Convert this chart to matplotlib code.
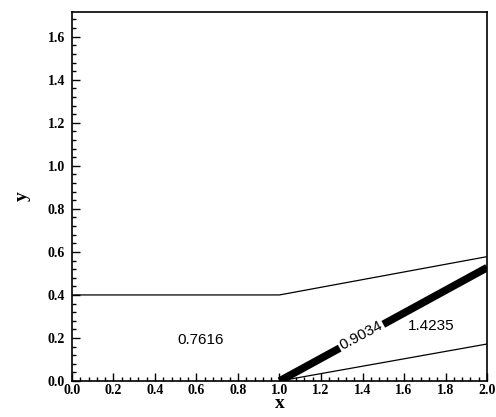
import numpy as np
import matplotlib
matplotlib.use("Agg")
from matplotlib import pyplot as plt
from matplotlib.ticker import MultipleLocator

# contour lines
upper_x = [0.0, 1.0, 2.0]
upper_y = [0.4, 0.4, 0.578]
lower_x = [1.0, 2.0]
lower_y = [0.0, 0.172]
thick_x = [1.0, 2.0]
thick_y = [0.0, 0.527]

labels = ['0.7616', '0.9034', '1.4235']
label_x = [0.62, 1.395, 1.73]
label_y = [0.19, 0.21, 0.255]

fig = plt.figure(figsize=(4.96, 4.17), dpi=100)
ax = fig.add_axes([0.145, 0.0863, 0.837, 0.885])

ax.plot(upper_x, upper_y, color='black', lw=0.9)
ax.plot(lower_x, lower_y, color='black', lw=0.9)

# thick line, with a gap where the label sits
slope = (thick_y[1] - thick_y[0]) / (thick_x[1] - thick_x[0])
seg1 = np.array([1.0, 1.29])
seg2 = np.array([1.50, 2.0])
ax.plot(seg1, thick_y[0] + slope * (seg1 - thick_x[0]), color='black', lw=5.5, solid_capstyle='butt')
ax.plot(seg2, thick_y[0] + slope * (seg2 - thick_x[0]), color='black', lw=5.5, solid_capstyle='butt')

ax.text(label_x[0], label_y[0], labels[0], family='Liberation Sans', fontsize=11, ha='center', va='center')
ax.text(label_x[1], label_y[1], labels[1], family='Liberation Sans', fontsize=11, ha='center', va='center', rotation=28)
ax.text(label_x[2], label_y[2], labels[2], family='Liberation Sans', fontsize=11, ha='center', va='center')

ax.set_xlim(0, 2.0)
ax.set_ylim(0, 1.715)
ax.xaxis.set_major_locator(MultipleLocator(0.2))
ax.xaxis.set_minor_locator(MultipleLocator(0.04))
ax.yaxis.set_major_locator(MultipleLocator(0.2))
ax.yaxis.set_minor_locator(MultipleLocator(0.04))
ax.tick_params(which='both', direction='in', top=False, right=False, width=1)
ax.tick_params(which='major', length=6)
ax.tick_params(which='minor', length=3)
ax.tick_params(axis='x', which='major', pad=2)
ax.tick_params(axis='y', which='major', pad=5)
for s in ax.spines.values():
    s.set_linewidth(1.2)

ax.set_xticklabels(['%.1f' % v for v in ax.get_xticks()], family='Liberation Serif', fontweight='bold', fontsize=10)
ax.set_yticklabels(['%.1f' % v for v in ax.get_yticks()], family='Liberation Serif', fontweight='bold', fontsize=10)
ax.set_xlabel('x', family='Liberation Serif', fontweight='bold', fontsize=14, labelpad=-1)
ax.set_ylabel('y', family='Liberation Serif', fontweight='bold', fontsize=14, labelpad=12)

fig.savefig('out.png', dpi=100)
